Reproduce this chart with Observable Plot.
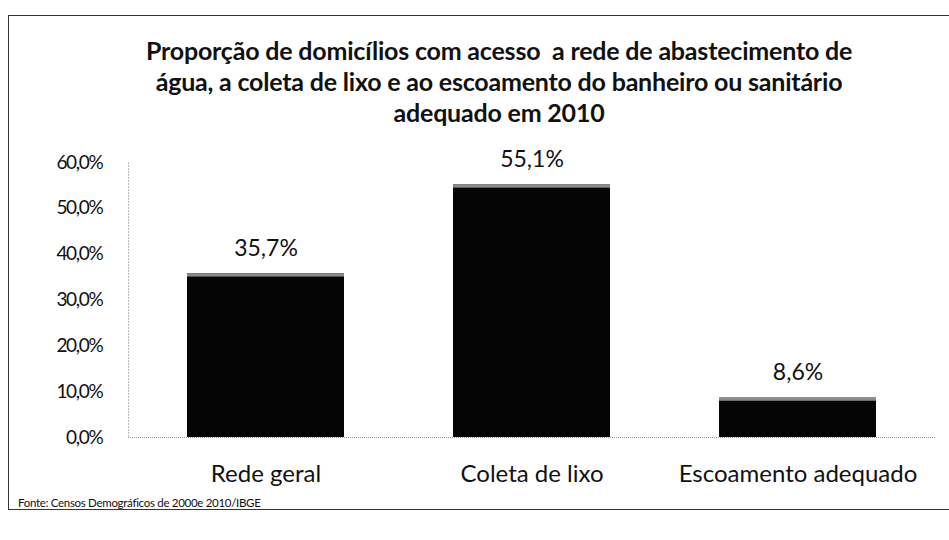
<!DOCTYPE html>
<html>
<head>
<meta charset="utf-8">
<script src="https://cdn.jsdelivr.net/npm/d3@7"></script>
<script src="https://cdn.jsdelivr.net/npm/@observablehq/plot@0.6"></script>
<style>
  html, body { margin: 0; padding: 0; background: #fff; }
  body { width: 949px; height: 540px; position: relative; overflow: hidden; font-family: Lato, "Open Sans", sans-serif; }
  #frame { position: absolute; left: 8px; top: 15px; width: 960px; height: 495px; border: 1.5px solid #333; box-sizing: border-box; }
  #title { position: absolute; left: 99px; width: 800px; top: 35px; text-align: center; font-weight: bold; font-size: 25px; line-height: 31px; color: #111; letter-spacing: -0.2px; }
  #chart { position: absolute; left: 0; top: 140px; }
  #chart g[aria-label="y-axis tick label"] text { letter-spacing: -1.3px; }
  #caption { position: absolute; left: 18px; top: 496px; font-size: 11.5px; color: #111; letter-spacing: -0.3px; }
</style>
</head>
<body>
<div id="frame"></div>
<div id="title">Proporção de domicílios com acesso&nbsp; a rede de abastecimento de<br>água, a coleta de lixo e ao escoamento do banheiro ou sanitário<br>adequado em 2010</div>
<div id="chart"></div>
<div id="caption">Fonte: Censos Demográficos de 2000e 2010/IBGE</div>
<script>
const categories = ["Rede geral", "Coleta de lixo", "Escoamento adequado"];
const values = [35.7, 55.1, 8.6];
const yTicks = [0, 10, 20, 30, 40, 50, 60];

const data = categories.map((c, i) => ({category: c, value: values[i]}));
const fmt = d => d.toFixed(1).replace(".", ",") + "%";

const plot = Plot.plot({
  width: 949,
  height: 350,
  marginTop: 22,
  marginBottom: 53,
  marginLeft: 128,
  marginRight: 14,
  style: {fontFamily: "Lato, 'Open Sans', sans-serif", fontSize: "20px", color: "#111", background: "transparent"},
  x: {domain: categories, range: [186, 876], paddingInner: 0.41, paddingOuter: 0, label: null},
  y: {domain: [0, 60], label: null},
  marks: [
    Plot.axisY({ticks: yTicks, tickFormat: fmt, tickSize: 0, tickPadding: 26, fontSize: 19, label: null}),
    Plot.axisX({tickSize: 0, tickPadding: 27, fontSize: 24, label: null}),
    Plot.frame({anchor: "left", stroke: "#bbb", strokeDasharray: "1,2", strokeWidth: 1}),
    Plot.barY(data, {x: "category", y: "value", fill: "#050505"}),
    Plot.barY(data, {x: "category", y1: d => d.value - 0.7, y2: "value", fill: "#8a8a8a"}),
    Plot.ruleY([0], {stroke: "#999", strokeDasharray: "1,1", strokeWidth: 1}),
    Plot.text(data, {x: "category", y: "value", text: d => fmt(d.value), dy: -25, fontSize: 23, fill: "#111"})
  ]
});
document.getElementById("chart").appendChild(plot);
</script>
</body>
</html>
